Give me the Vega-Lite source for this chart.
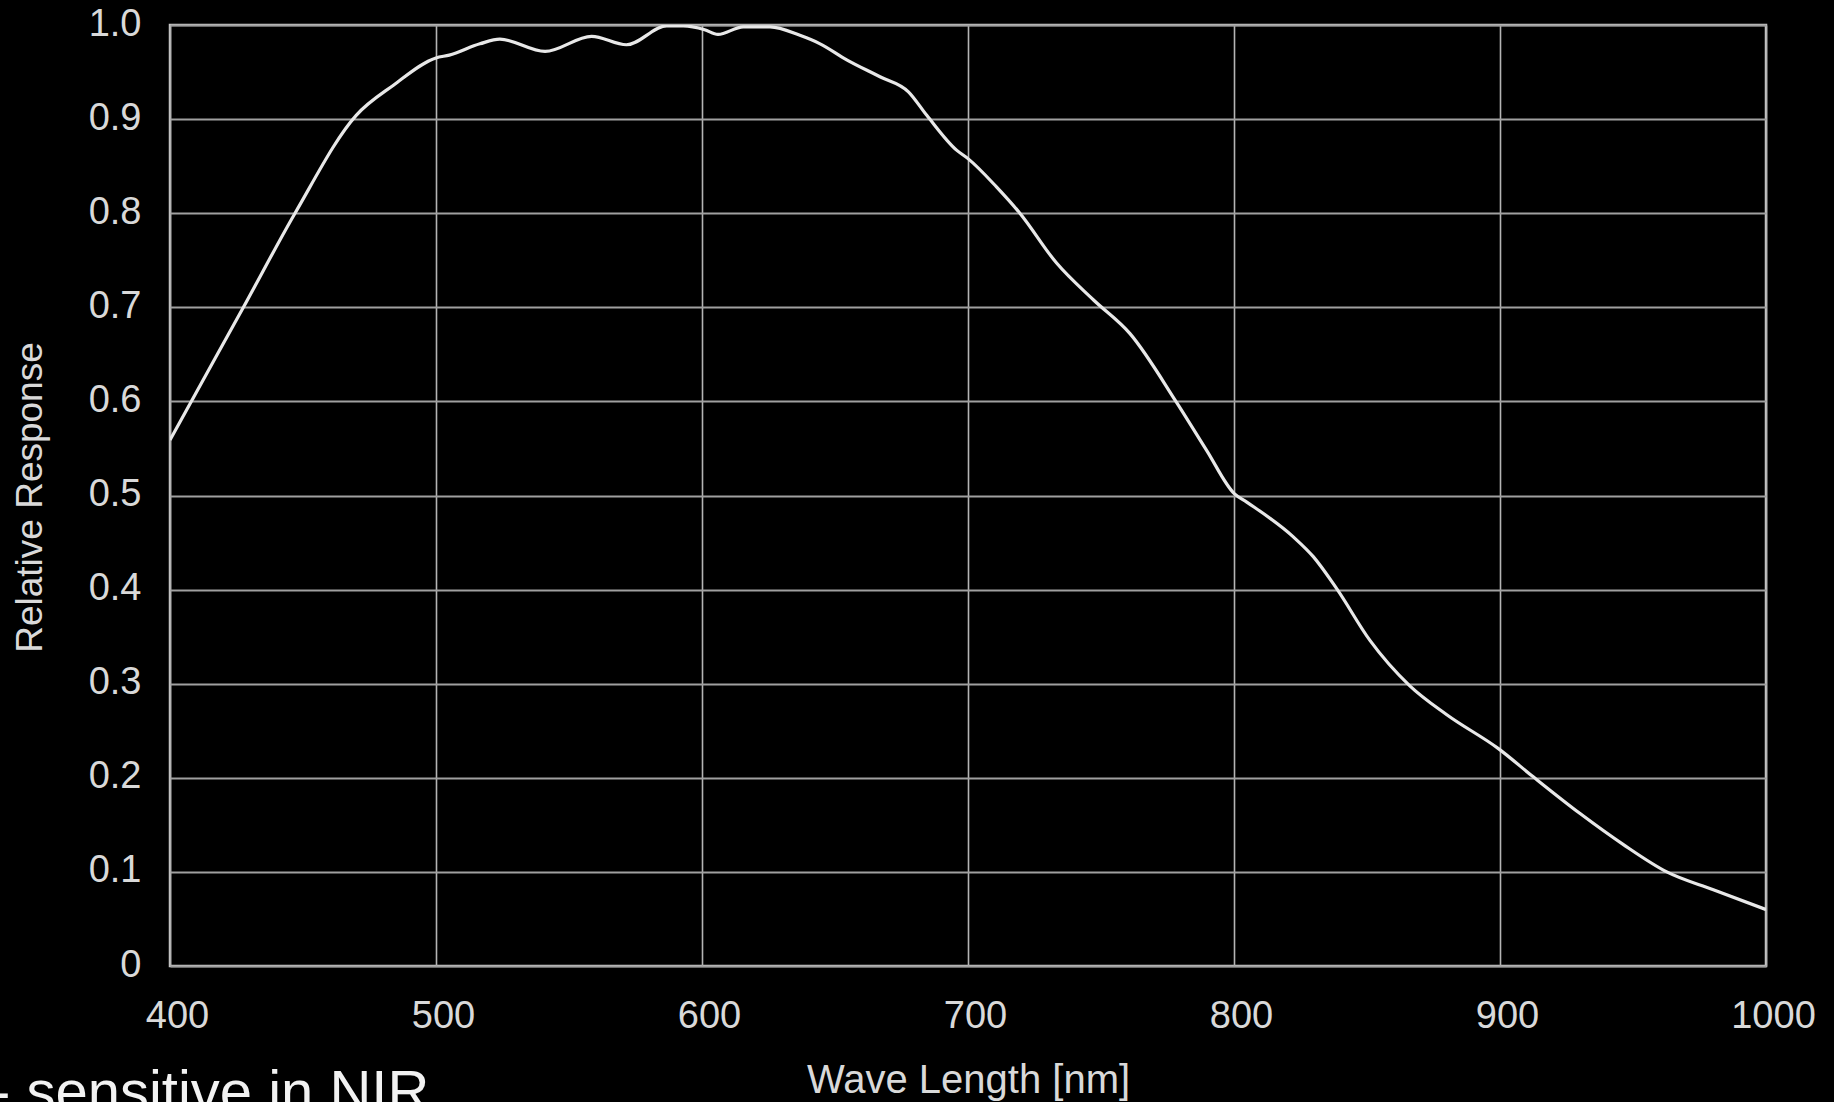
{
  "$schema": "https://vega.github.io/schema/vega-lite/v6.json",
  "width": 1596,
  "height": 941,
  "autosize": {"type": "none"},
  "padding": {"left": 170, "top": 25, "right": 68, "bottom": 136},
  "background": "#000000",
  "title": {
    "text": "- sensitive in NIR",
    "orient": "bottom",
    "anchor": "start",
    "frame": "group",
    "dx": -179,
    "offset": 11,
    "baseline": "alphabetic",
    "font": "Liberation Sans",
    "fontSize": 58,
    "fontWeight": "normal",
    "color": "#f2f2f2"
  },
  "data": {
    "values": [
      {"wavelength": 400, "response": 0.559},
      {"wavelength": 408, "response": 0.600},
      {"wavelength": 427.6, "response": 0.700},
      {"wavelength": 447, "response": 0.800},
      {"wavelength": 470, "response": 0.904},
      {"wavelength": 484, "response": 0.936},
      {"wavelength": 500, "response": 0.965},
      {"wavelength": 505, "response": 0.968},
      {"wavelength": 516.5, "response": 0.980},
      {"wavelength": 524, "response": 0.985},
      {"wavelength": 541, "response": 0.972},
      {"wavelength": 558.5, "response": 0.988},
      {"wavelength": 571.6, "response": 0.979},
      {"wavelength": 586.7, "response": 0.999},
      {"wavelength": 593, "response": 0.999},
      {"wavelength": 601, "response": 0.995},
      {"wavelength": 606, "response": 0.990},
      {"wavelength": 615.5, "response": 0.998},
      {"wavelength": 625.6, "response": 0.998},
      {"wavelength": 636.8, "response": 0.989},
      {"wavelength": 644.4, "response": 0.980},
      {"wavelength": 654.4, "response": 0.963},
      {"wavelength": 666.9, "response": 0.945},
      {"wavelength": 677.6, "response": 0.929},
      {"wavelength": 684.5, "response": 0.904},
      {"wavelength": 695.7, "response": 0.867},
      {"wavelength": 700, "response": 0.858},
      {"wavelength": 710.7, "response": 0.828},
      {"wavelength": 719.5, "response": 0.800},
      {"wavelength": 733.3, "response": 0.747},
      {"wavelength": 747.1, "response": 0.708},
      {"wavelength": 760.9, "response": 0.672},
      {"wavelength": 778.4, "response": 0.599},
      {"wavelength": 789.7, "response": 0.548},
      {"wavelength": 800.1, "response": 0.502},
      {"wavelength": 804.8, "response": 0.493},
      {"wavelength": 822.3, "response": 0.456},
      {"wavelength": 829.8, "response": 0.435},
      {"wavelength": 838.6, "response": 0.401},
      {"wavelength": 851.1, "response": 0.346},
      {"wavelength": 866, "response": 0.298},
      {"wavelength": 880, "response": 0.267},
      {"wavelength": 899.4, "response": 0.231},
      {"wavelength": 912.5, "response": 0.201},
      {"wavelength": 930.1, "response": 0.162},
      {"wavelength": 946.4, "response": 0.129},
      {"wavelength": 962.7, "response": 0.100},
      {"wavelength": 980.2, "response": 0.081},
      {"wavelength": 1000, "response": 0.060}
    ]
  },
  "mark": {
    "type": "line",
    "interpolate": "monotone",
    "color": "#e8e8e8",
    "strokeWidth": 3.2,
    "clip": true
  },
  "encoding": {
    "x": {
      "field": "wavelength",
      "type": "quantitative",
      "scale": {"domain": [400, 1000], "nice": false, "zero": false},
      "axis": {
        "title": "Wave Length [nm]",
        "values": [400, 500, 600, 700, 800, 900, 1000],
        "format": "d",
        "labelPadding": 61,
        "labelBaseline": "alphabetic",
        "labelOffset": 7,
        "labelFontSize": 38,
        "gridColor": "#b4b4b4",
        "gridWidth": 1.6,
        "titleFontSize": 40,
        "titleX": 798,
        "titleY": 126,
        "titleAlign": "center",
        "titleBaseline": "alphabetic"
      }
    },
    "y": {
      "field": "response",
      "type": "quantitative",
      "scale": {"domain": [0, 1], "nice": false},
      "axis": {
        "title": "Relative Response",
        "values": [0, 0.1, 0.2, 0.3, 0.4, 0.5, 0.6, 0.7, 0.8, 0.9, 1],
        "labelExpr": "datum.value == 0 ? '0' : format(datum.value, '.1f')",
        "labelPadding": 29,
        "labelAlign": "right",
        "labelBaseline": "alphabetic",
        "labelOffset": 10,
        "labelFontSize": 38,
        "gridColor": "#a0a0a0",
        "gridWidth": 2,
        "titleFontSize": 37,
        "titleAngle": -90,
        "titleX": -129,
        "titleY": 472,
        "titleAlign": "center",
        "titleBaseline": "alphabetic"
      }
    }
  },
  "config": {
    "view": {"stroke": "#c8c8c8", "strokeWidth": 2.5},
    "axis": {
      "domain": false,
      "ticks": false,
      "tickSize": 0,
      "grid": true,
      "labelFont": "Liberation Sans",
      "labelColor": "#d9d9d9",
      "labelFlush": false,
      "labelOverlap": false,
      "titleFont": "Liberation Sans",
      "titleFontWeight": "normal",
      "titleColor": "#d9d9d9"
    }
  }
}
